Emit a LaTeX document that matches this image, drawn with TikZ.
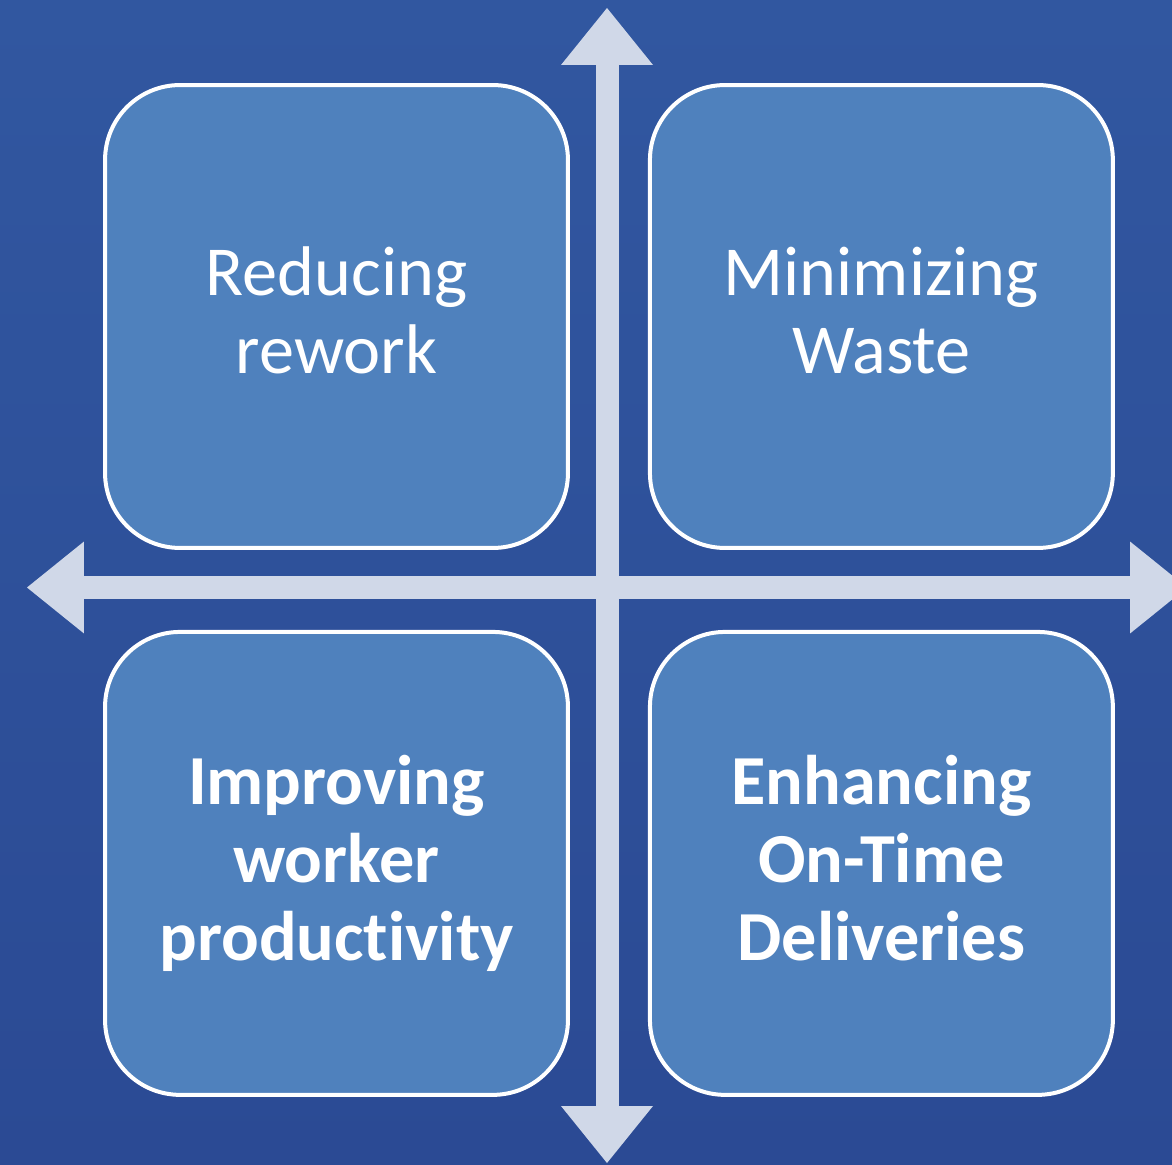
\documentclass[tikz,border=0pt]{standalone}
\usepackage{fontspec}
\setmainfont{Carlito}[Ligatures=NoCommon]
\usepackage{xcolor}
\usetikzlibrary{positioning, arrows.meta}
\definecolor{bgTop}{HTML}{3157A0}
\definecolor{bgBottom}{HTML}{2B4A94}
\definecolor{boxFill}{HTML}{4F81BD}
\definecolor{axisGray}{HTML}{D0D8E8}
\tikzset{
    quadBox/.style={rectangle, rounded corners=1.5cm, draw=white, line width=0.08cm, fill=boxFill,
        minimum width=9.26cm, minimum height=9.26cm, align=center, text=white,
        font=\fontsize{40}{44.4}\selectfont, execute at end node=\vphantom{g}},
    quadBold/.style={quadBox, font=\fontsize{40}{44.4}\selectfont\bfseries},
    axisArrow/.style={draw=axisGray, line width=0.46cm,
        {Triangle[length=1.14cm, width=1.84cm, line width=0pt]}-{Triangle[length=1.14cm, width=1.84cm, line width=0pt]}}
}
\begin{document}
\begin{tikzpicture}[x=0.02cm, y=-0.02cm]
        \useasboundingbox (0,0) rectangle (1172,1165);
        \clip (0,0) rectangle (1172,1165);
        \shade[top color=bgTop, bottom color=bgBottom] (0,0) rectangle (1172,1165);

        \node[quadBox] (Rework) at (336.5,316.5) {Reducing\\rework};
        \node[quadBox, right=1.56cm of Rework] (Waste) {Minimizing\\Waste};
        \node[quadBold, below=1.6cm of Rework] (Productivity) {Improving\\worker\\productivity};
        \node[quadBold, below=1.6cm of Waste] (Delivery) {Enhancing\\On-Time\\Deliveries};

        % axes
        \coordinate (AxisTop) at (607,8);
        \coordinate (AxisBottom) at (607,1163);
        \coordinate (AxisLeft) at (27,587.5);
        \coordinate (AxisRight) at (1187,587.5);
        \draw[axisArrow] (AxisTop) -- (AxisBottom);
        \draw[axisArrow] (AxisLeft) -- (AxisRight);
    \end{tikzpicture}
\end{document}
